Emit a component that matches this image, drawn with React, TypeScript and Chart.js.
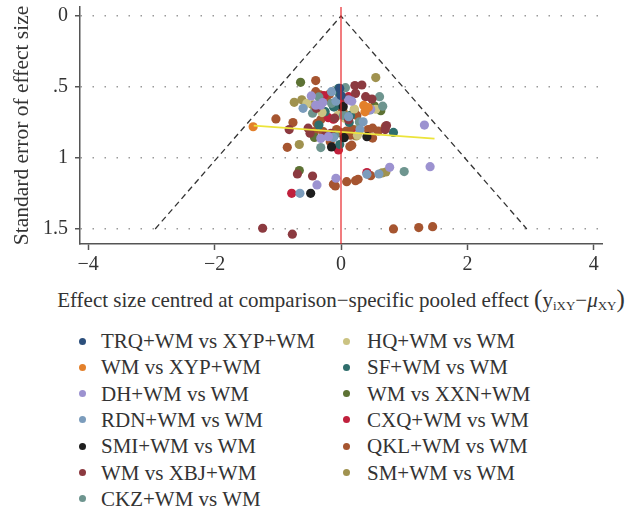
import React, { useEffect, useRef } from "react";
import { Chart, registerables } from "chart.js";
Chart.register(...registerables);

const FONT = "'Liberation Serif', 'DejaVu Serif', serif";
const TEXT = "#333333";

const seriesNames = [
  "TRQ+WM vs XYP+WM",
  "WM vs XYP+WM",
  "DH+WM vs WM",
  "RDN+WM vs WM",
  "SMI+WM vs WM",
  "WM vs XBJ+WM",
  "CKZ+WM vs WM",
  "HQ+WM vs WM",
  "SF+WM vs WM",
  "WM vs XXN+WM",
  "CXQ+WM vs WM",
  "QKL+WM vs WM",
  "SM+WM vs WM",
];
const seriesColors = [
  "#2c4f7c", "#e3802b", "#9c92d0", "#7b9cbc", "#1e1e1e", "#8c3a40", "#6e958f",
  "#cbc382", "#2f6e6c", "#5d7234", "#c0203c", "#a65530", "#a0924f",
];

const trq = [[-0.02, 0.51], [0.0, 0.56]];
const wmXyp = [[-1.39, 0.78], [0.36, 0.63], [0.38, 0.675], [0.43, 0.645]];
const dh = [[-0.47, 0.563], [-0.40, 0.628], [-0.32, 0.628], [-0.29, 0.61], [0.17, 0.60], [0.12, 0.59], [0.47, 0.657], [-0.32, 0.862], [-0.20, 0.85], [1.32, 0.768], [-0.38, 1.19], [-0.08, 1.143], [0.77, 1.066], [1.41, 1.061]];
const rdn = [[-0.60, 0.65], [-0.15, 0.533], [-0.08, 0.60], [0.46, 0.662], [0.12, 0.709], [0.30, 0.80], [-0.12, 0.855], [0.41, 1.115], [0.60, 1.113], [-0.65, 1.249], [0.35, 0.745]];
const smi = [[0.035, 0.639], [0.05, 0.857], [0.41, 0.85], [-0.15, 0.922], [-0.48, 1.249]];
const xbj = [[0.22, 0.49], [0.33, 0.486], [0.23, 0.545], [0.39, 0.568], [0.49, 0.585], [-0.39, 0.65], [-0.82, 0.80], [-0.52, 0.79], [-0.49, 0.826], [-0.16, 0.826], [-0.24, 0.835], [0.72, 0.772], [0.70, 0.80], [0.12, 0.73], [-0.10, 0.72], [-0.69, 1.113], [-0.45, 1.127], [-1.24, 1.495], [-0.77, 1.537], [0.08, 0.58]];
const ckz = [[0.07, 0.505], [-0.35, 0.57], [-0.45, 0.685], [-0.15, 0.615], [0.61, 0.568], [0.29, 0.746], [0.04, 0.70], [-0.32, 0.927], [1.00, 1.096], [-0.10, 0.84], [0.66, 0.635]];
const hq = [[-0.54, 0.615], [0.55, 0.657], [-0.30, 0.68], [0.06, 0.72], [0.21, 0.655], [0.26, 0.84], [-0.05, 0.70]];
const sf = [[-0.04, 0.51], [-0.02, 0.556], [-0.12, 0.64], [-0.25, 0.674], [0.13, 0.75], [0.15, 0.70], [-0.35, 0.768], [0.83, 0.82], [-0.02, 0.905], [-0.10, 0.64]];
const xxn = [[-0.64, 0.467], [0.53, 0.634], [0.63, 0.667], [-0.42, 0.855], [-0.66, 1.089]];
const cxq = [[0.12, 0.568], [-0.27, 0.56], [0.43, 0.662], [-0.20, 0.716], [-0.12, 0.727], [-0.04, 0.944], [0.05, 0.60], [0.41, 1.103], [-0.78, 1.249], [0.27, 0.82]];
const qkl = [[-0.40, 0.455], [-0.40, 0.533], [-0.33, 0.556], [-0.23, 0.59], [-0.18, 0.55], [-0.05, 0.60], [0.02, 0.66], [-0.32, 0.73], [-0.76, 0.75], [-1.03, 0.725], [-0.38, 0.756], [-0.42, 0.815], [-0.28, 0.815], [-0.26, 0.843], [-0.07, 0.80], [-0.01, 0.82], [0.085, 0.81], [0.15, 0.84], [0.18, 0.80], [0.43, 0.80], [0.50, 0.79], [0.59, 0.81], [0.50, 0.86], [0.70, 0.78], [-0.17, 0.885], [-0.85, 0.925], [0.14, 0.92], [0.17, 0.91], [-0.12, 1.185], [-0.09, 1.197], [0.09, 1.167], [0.23, 1.16], [0.27, 1.15], [0.47, 1.125], [0.83, 1.50], [1.23, 1.49], [1.45, 1.484], [0.25, 0.70]];
const sm = [[0.55, 0.434], [-0.74, 0.608], [-0.62, 0.59], [-0.45, 0.625], [0.04, 0.68], [0.21, 0.662], [0.21, 0.80], [0.24, 0.845], [-0.66, 0.905], [0.65, 1.105], [0.71, 1.099]];

const seriesData = [trq, wmXyp, dh, rdn, smi, xbj, ckz, hq, sf, xxn, cxq, qkl, sm];

const funnelLine = [[-2.94, 1.5], [0, 0], [2.94, 1.5]];
const nullLine = [[0, -0.1], [0, 1.7]];
const regressionLine = [[-1.38, 0.772], [1.48, 0.864]];

const xTicks = [-4, -2, 0, 2, 4];
const yTicks = [0, 0.5, 1, 1.5];
const yTickLabels = ["0", ".5", "1", "1.5"];

const toXY = (arr: number[][]) => arr.map(([x, y]) => ({ x, y }));

export default function App() {
  const ref = useRef<HTMLCanvasElement>(null);
  useEffect(() => {
    const lineDs = (pts: number[][], color: string, width: number, dash: number[]) => ({
      type: "line" as const,
      data: toXY(pts),
      borderColor: color,
      borderWidth: width,
      borderDash: dash,
      pointRadius: 0,
      showLine: true,
      fill: false,
      tension: 0,
      order: 0,
    });
    const pointDs = seriesData.map((d, i) => ({
      label: seriesNames[i],
      data: toXY(d),
      backgroundColor: seriesColors[i],
      borderColor: seriesColors[i],
      borderWidth: 0,
      pointRadius: 4.6,
      order: 1,
    }));
    const chart = new Chart(ref.current!, {
      type: "scatter",
      data: {
        datasets: [
          lineDs(nullLine, "#e8262a", 1.2, []),
          lineDs(regressionLine, "#ece43a", 1.6, []),
          lineDs(funnelLine, "#333333", 1.3, [6, 4]),
          ...pointDs,
        ] as any,
      },
      options: {
        animation: false,
        responsive: false,
        devicePixelRatio: 1,
        layout: { padding: { top: 7, right: 26, left: 0, bottom: 0 } },
        plugins: { legend: { display: false }, tooltip: { enabled: false } },
        scales: {
          x: {
            type: "linear",
            min: -4.13,
            max: 4.13,
            afterBuildTicks: (s: any) => {
              s.ticks = xTicks.map((v) => ({ value: v }));
            },
            afterFit: (s: any) => {
              s.height = 36;
              s.paddingLeft = 0;
              s.paddingRight = 0;
            },
            border: { display: true, color: "#555", width: 1.5 },
            grid: { drawOnChartArea: false, drawTicks: true, tickLength: 6, tickColor: "#555", tickWidth: 1.5 },
            ticks: {
              autoSkip: false,
              maxRotation: 0,
              padding: 3,
              color: TEXT,
              font: { family: FONT, size: 20 },
              callback: (v: any) => (v < 0 ? "\u2212" + Math.abs(v) : String(v)),
            },
          },
          y: {
            type: "linear",
            reverse: true,
            min: -0.0634,
            max: 1.606,
            afterBuildTicks: (s: any) => {
              s.ticks = yTicks.map((v) => ({ value: v }));
            },
            afterFit: (s: any) => {
              s.width = 80;
              s.paddingTop = 0;
              s.paddingBottom = 0;
            },
            border: { display: true, color: "#555", width: 1.5, dash: [1.5, 10.5] },
            grid: { color: "#9a9a9a", lineWidth: 1.5, drawTicks: true, tickLength: 5, tickColor: "#555", tickWidth: 1.5, tickBorderDash: [] },
            ticks: {
              padding: 7,
              color: TEXT,
              font: { family: FONT, size: 20 },
              callback: (v: any) => yTickLabels[yTicks.indexOf(Number(v))] ?? "",
            },
            title: {
              display: true,
              text: "Standard error of effect size",
              color: TEXT,
              font: { family: FONT, size: 21.5 },
              padding: { top: 9, bottom: 0 },
            },
          },
        },
      } as any,
    });
    return () => chart.destroy();
  }, []);

  const legendRows = seriesNames.map((name, i) => {
    const col = i < 7 ? 0 : 1;
    const row = i < 7 ? i : i - 7;
    const bx = col === 0 ? 82 : 346;
    const tx = col === 0 ? 101 : 367;
    const cy = 341 + row * 26.3;
    return (
      <div
        key={name}
        style={{
          position: "absolute",
          left: bx - 3.5,
          top: cy - 13,
          height: 26,
          lineHeight: "26px",
          display: "flex",
          alignItems: "center",
          whiteSpace: "nowrap",
          fontSize: 21,
          color: TEXT,
        }}
      >
        <span
          style={{
            display: "inline-block",
            width: 7,
            height: 7,
            borderRadius: "50%",
            background: seriesColors[i],
            marginRight: tx - (bx + 3.5),
          }}
        />
        <span>{name}</span>
      </div>
    );
  });

  return (
    <div
      style={{
        position: "absolute",
        left: 0,
        top: 0,
        width: 628,
        height: 508,
        overflow: "hidden",
        background: "#fff",
        fontFamily: FONT,
      }}
    >
      <canvas ref={ref} width={628} height={280} style={{ position: "absolute", left: 0, top: 0, width: 628, height: 280 }} />
      <div
        style={{
          position: "absolute",
          left: 0,
          top: 287,
          width: 682,
          textAlign: "center",
          whiteSpace: "nowrap",
          fontSize: 21,
          lineHeight: "24px",
          color: TEXT,
        }}
      >
        Effect size centred at comparison−specific pooled effect{" "}
        <span style={{ fontSize: 25 }}>(</span>y
        <sub style={{ fontSize: 13, verticalAlign: "-0.2em" }}>iXY</sub>−<i>μ</i>
        <sub style={{ fontSize: 13, verticalAlign: "-0.2em" }}>XY</sub>
        <span style={{ fontSize: 25 }}>)</span>
      </div>
      {legendRows}
    </div>
  );
}
